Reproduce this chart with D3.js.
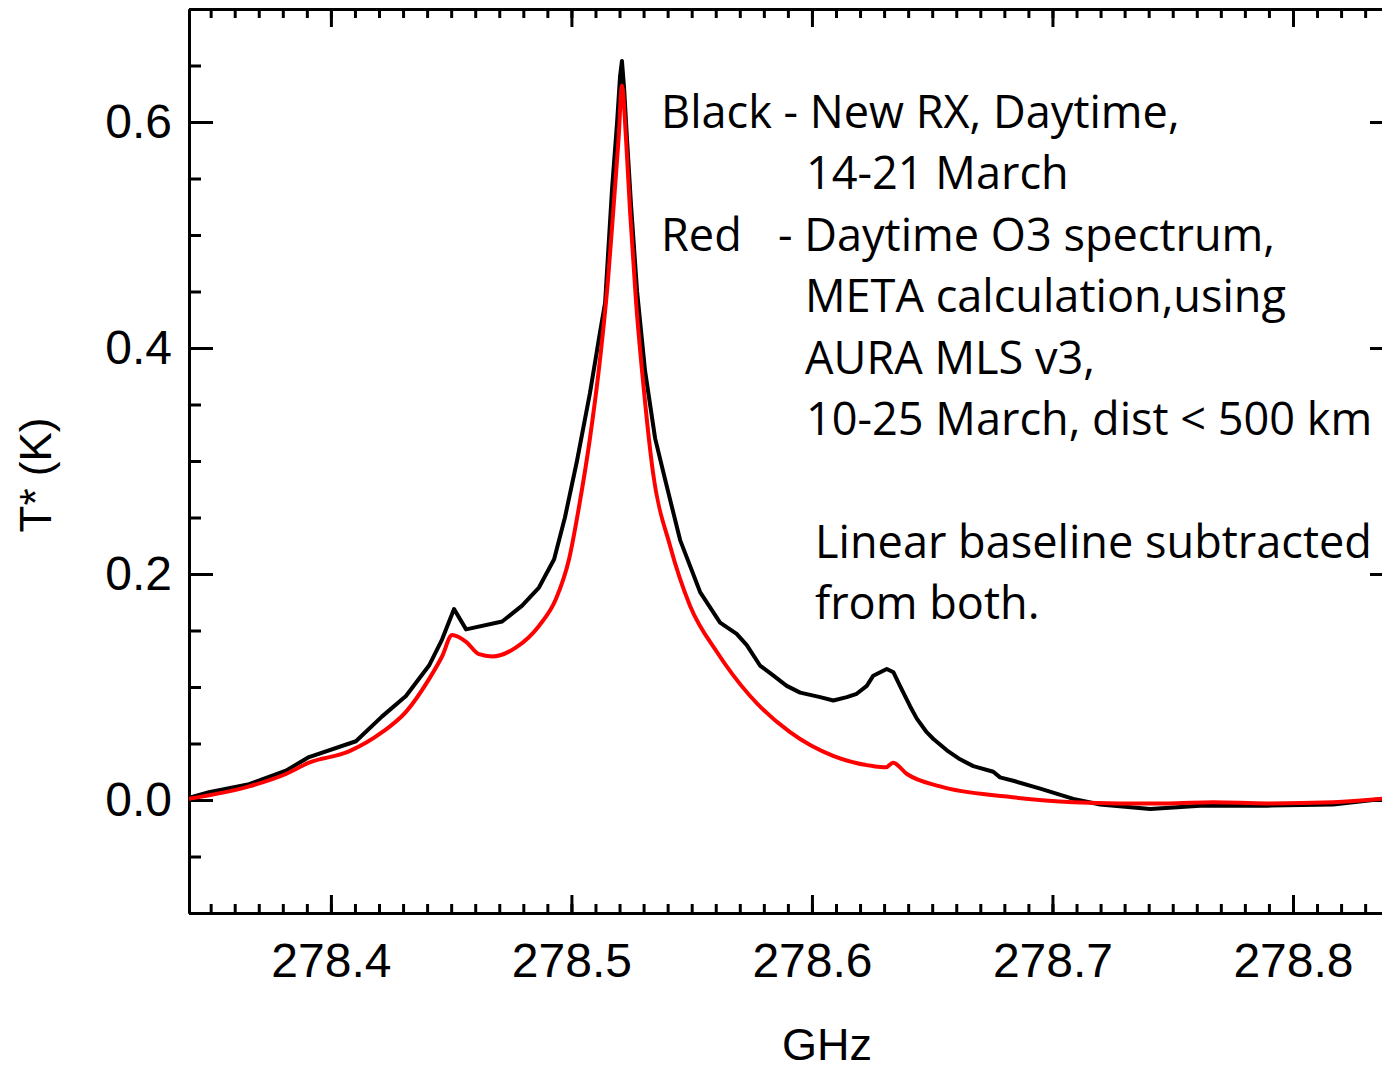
<!DOCTYPE html>
<html>
<head>
<meta charset="utf-8">
<script src="https://cdn.jsdelivr.net/npm/d3@7"></script>
<style>
  body { margin: 0; background: #fff; overflow: hidden; }
  svg { display: block; }
</style>
</head>
<body>
<div id="chart"></div>
<script>
// Observed spectrum (black), GHz / K
const freqBlack = [
  278.3410, 278.3493, 278.3660, 278.3813, 278.3909, 278.4104, 278.4213, 278.4312,
  278.4408, 278.4462, 278.4512, 278.4562, 278.4712, 278.4795, 278.4865, 278.4928,
  278.4973, 278.5023, 278.5077, 278.5119, 278.5140, 278.5169, 278.5190, 278.5202,
  278.5210, 278.5219, 278.5231, 278.5248, 278.5273, 278.5306, 278.5348, 278.5389,
  278.5452, 278.5535, 278.5618, 278.5687, 278.5729, 278.5784, 278.5840, 278.5895,
  278.5951, 278.6034, 278.6089, 278.6145, 278.6186, 278.6228, 278.6255, 278.6311,
  278.6339, 278.6366, 278.6408, 278.6436, 278.6477, 278.6505, 278.6561, 278.6616,
  278.6671, 278.6754, 278.6782, 278.6837, 278.6949, 278.7087, 278.7198, 278.7406,
  278.7614, 278.7892, 278.8167, 278.8420
];
const tBlack = [
  0.002, 0.007, 0.014, 0.026, 0.038, 0.052, 0.074, 0.092,
  0.119, 0.142, 0.169, 0.151, 0.158, 0.172, 0.188, 0.213,
  0.250, 0.300, 0.360, 0.414, 0.440, 0.541, 0.600, 0.640,
  0.654, 0.630, 0.585, 0.526, 0.450, 0.380, 0.320, 0.284,
  0.230, 0.184, 0.157, 0.147, 0.137, 0.119, 0.110, 0.101,
  0.095, 0.091, 0.088, 0.091, 0.094, 0.101, 0.110, 0.116,
  0.113, 0.101, 0.083, 0.072, 0.060, 0.054, 0.044, 0.036,
  0.030, 0.025, 0.020, 0.017, 0.010, 0.001, -0.004, -0.008,
  -0.005, -0.005, -0.004, 0.002
];

// Model spectrum (red)
const freqRed = [
  278.3410, 278.3660, 278.3813, 278.3909, 278.4075, 278.4213, 278.4312, 278.4408,
  278.4462, 278.4504, 278.4562, 278.4616, 278.4670, 278.4770, 278.4865, 278.4936,
  278.4990, 278.5032, 278.5077, 278.5119, 278.5152, 278.5177, 278.5196, 278.5210,
  278.5227, 278.5244, 278.5269, 278.5298, 278.5339, 278.5410, 278.5493, 278.5605,
  278.5743, 278.5909, 278.6088, 278.6254, 278.6308, 278.6337, 278.6395, 278.6533,
  278.6811, 278.7086, 278.7281, 278.7477, 278.7668, 278.7892, 278.8167, 278.8420
];
const tRed = [
  0.001, 0.012, 0.023, 0.033, 0.043, 0.060, 0.078, 0.107,
  0.127, 0.146, 0.140, 0.129, 0.127, 0.135, 0.154, 0.178,
  0.213, 0.260, 0.320, 0.390, 0.460, 0.530, 0.585, 0.632,
  0.585, 0.520, 0.440, 0.370, 0.290, 0.225, 0.172, 0.131,
  0.092, 0.060, 0.039, 0.030, 0.029, 0.033, 0.023, 0.012,
  0.003, -0.002, -0.003, -0.003, -0.002, -0.003, -0.002, 0.002
];

const xMajorTicks = [278.4, 278.5, 278.6, 278.7, 278.8];
const yMajorTicks = [0.0, 0.2, 0.4, 0.6];
const xDomain = [278.341, 278.842];
const yDomain = [-0.1, 0.7];

const noteLines = [
  { text: "Black - New RX, Daytime,", x: 661, row: 0 },
  { text: "14-21 March", x: 806, row: 1 },
  { text: "Red", x: 661, row: 2 },
  { text: "- Daytime O3 spectrum,", x: 778, row: 2 },
  { text: "META calculation,using", x: 805, row: 3 },
  { text: "AURA MLS v3,", x: 805, row: 4 },
  { text: "10-25 March, dist < 500 km", x: 806, row: 5 },
  { text: "Linear baseline subtracted", x: 815, row: 7 },
  { text: "from both.", x: 815, row: 8 }
];

const width = 1382;
const height = 1071;
const plotLeft = 189, plotRight = 1394, plotTop = 9, plotBottom = 913;

const x = d3.scaleLinear().domain(xDomain).range([plotLeft, plotRight]);
const y = d3.scaleLinear().domain(yDomain).range([plotBottom, plotTop]);

const xMinorTicks = d3.range(278.35, 278.845, 0.01).map(v => +v.toFixed(2));
const yMinorTicks = d3.range(-0.1, 0.701, 0.05).map(v => +v.toFixed(2));

const svg = d3.select("#chart")
  .append("svg")
  .attr("width", width)
  .attr("height", height)
  .style("overflow", "hidden");

svg.append("defs").append("clipPath").attr("id", "plot")
  .append("rect")
  .attr("x", plotLeft).attr("y", plotTop)
  .attr("width", plotRight - plotLeft).attr("height", plotBottom - plotTop);

const fmt = d3.format(".1f");
const tickFont = "'Liberation Sans', Arial, sans-serif";

function styleAxis(g) {
  g.select(".domain").attr("stroke-width", 3).attr("stroke", "#000");
  g.selectAll(".tick line").attr("stroke-width", 3).attr("stroke", "#000");
  g.selectAll(".tick text").attr("fill", "#000");
}

// bottom axis
svg.append("g")
  .attr("transform", `translate(0,${plotBottom})`)
  .call(d3.axisBottom(x).tickValues(xMinorTicks).tickSizeInner(-9).tickSizeOuter(0).tickFormat(""))
  .call(styleAxis);
svg.append("g")
  .attr("transform", `translate(0,${plotBottom})`)
  .call(d3.axisBottom(x).tickValues(xMajorTicks).tickSizeInner(-18).tickSizeOuter(0)
    .tickPadding(30).tickFormat(fmt))
  .call(styleAxis)
  .call(g => g.selectAll(".tick text").attr("font-family", tickFont).attr("font-size", 48));

// top axis
svg.append("g")
  .attr("transform", `translate(0,${plotTop})`)
  .call(d3.axisTop(x).tickValues(xMinorTicks).tickSizeInner(-9).tickSizeOuter(0).tickFormat(""))
  .call(styleAxis);
svg.append("g")
  .attr("transform", `translate(0,${plotTop})`)
  .call(d3.axisTop(x).tickValues(xMajorTicks).tickSizeInner(-18).tickSizeOuter(0).tickFormat(""))
  .call(styleAxis);

// left axis
svg.append("g")
  .attr("transform", `translate(${plotLeft},0)`)
  .call(d3.axisLeft(y).tickValues(yMinorTicks).tickSizeInner(-12).tickSizeOuter(0).tickFormat(""))
  .call(styleAxis);
svg.append("g")
  .attr("transform", `translate(${plotLeft},0)`)
  .call(d3.axisLeft(y).tickValues(yMajorTicks).tickSizeInner(-24).tickSizeOuter(0)
    .tickPadding(17).tickFormat(fmt))
  .call(styleAxis)
  .call(g => g.selectAll(".tick text").attr("font-family", tickFont).attr("font-size", 48));

// right axis (partly outside the picture)
svg.append("g")
  .attr("transform", `translate(${plotRight},0)`)
  .call(d3.axisRight(y).tickValues(yMinorTicks).tickSizeInner(-12).tickSizeOuter(0).tickFormat(""))
  .call(styleAxis);
svg.append("g")
  .attr("transform", `translate(${plotRight},0)`)
  .call(d3.axisRight(y).tickValues(yMajorTicks).tickSizeInner(-24).tickSizeOuter(0).tickFormat(""))
  .call(styleAxis);

// spectra
const blackData = freqBlack.map((f, i) => [f, tBlack[i]]);
const redData = freqRed.map((f, i) => [f, tRed[i]]);

const line = d3.line().x(d => x(d[0])).y(d => y(d[1]));

const curves = svg.append("g").attr("clip-path", "url(#plot)");
curves.append("path")
  .datum(blackData)
  .attr("fill", "none")
  .attr("stroke", "#000")
  .attr("stroke-width", 4)
  .attr("stroke-linejoin", "round")
  .attr("d", line);
curves.append("path")
  .datum(redData)
  .attr("fill", "none")
  .attr("stroke", "#ff0000")
  .attr("stroke-width", 4)
  .attr("stroke-linejoin", "round")
  .attr("d", line.curve(d3.curveMonotoneX));

// axis titles
svg.append("text")
  .attr("x", 827)
  .attr("y", 1060)
  .attr("text-anchor", "middle")
  .attr("font-family", tickFont)
  .attr("font-size", 45)
  .text("GHz");

svg.append("text")
  .attr("transform", `translate(51,475) rotate(-90)`)
  .attr("text-anchor", "middle")
  .attr("font-family", tickFont)
  .attr("font-size", 44)
  .text("T* (K)");

// annotation
const rowStep = 61.4;
const notes = svg.append("g")
  .attr("font-family", "'Open Sans', 'Noto Sans', sans-serif")
  .attr("font-size", 46)
  .attr("fill", "#000");

const noteText = notes.selectAll("text")
  .data(noteLines)
  .join("text")
  .text(d => d.text);

const ref = noteText.filter(d => d.text.startsWith("Linear")).node();
const sx = 557 / ref.getComputedTextLength();
noteText.attr("transform", d => `translate(${d.x},${128 + d.row * rowStep}) scale(${sx},1)`);
</script>
</body>
</html>
